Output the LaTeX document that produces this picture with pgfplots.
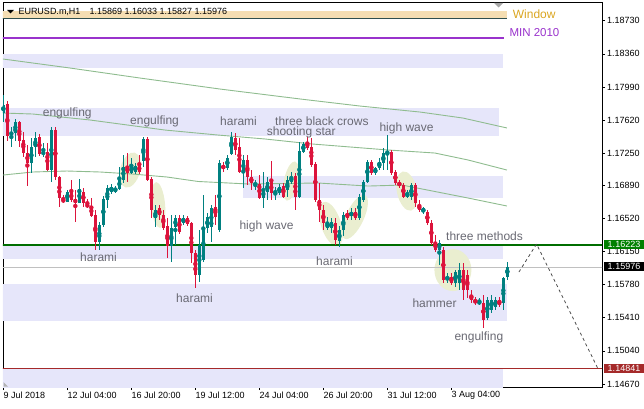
\documentclass[border=0pt]{standalone}
\usepackage{pgfplots}
\pgfplotsset{compat=1.18}
\usepackage{pgfplotstable}
\usepackage{fontspec}
\setmainfont{Liberation Sans}
\usetikzlibrary{shapes.geometric}

\definecolor{upc}{RGB}{0,128,128}
\definecolor{dnc}{RGB}{220,20,60}
\definecolor{lav}{RGB}{230,230,250}
\definecolor{wheatc}{RGB}{245,222,179}
\definecolor{orchid}{RGB}{153,50,204}
\definecolor{goldc}{RGB}{218,165,32}
\definecolor{magr}{RGB}{143,188,143}
\definecolor{lvlg}{RGB}{0,110,0}
\definecolor{lvlgr}{RGB}{192,192,192}
\definecolor{lvlr}{RGB}{165,42,42}
\definecolor{pale}{RGB}{234,238,208}
\definecolor{annot}{RGB}{105,105,115}
\definecolor{slate}{RGB}{47,79,79}
\definecolor{boxg}{RGB}{0,128,0}

\newcommand{\tickf}{\fontsize{9}{10}\selectfont}
\newcommand{\annf}{\fontsize{12}{13}\selectfont}

% EURUSD H4 bars: k open high low close
\pgfplotstableread{
k o h l c
0 1.17698 1.17899 1.17598 1.17788
1 1.17799 1.17832 1.17385 1.17441
2 1.17452 1.17542 1.17318 1.17486
3 1.17475 1.17631 1.17385 1.17598
4 1.17598 1.17609 1.17318 1.17385
5 1.17396 1.17486 1.17206 1.17251
6 1.17251 1.17341 1.16882 1.17139
7 1.17139 1.17419 1.17028 1.17318
8 1.17318 1.17486 1.17206 1.17419
9 1.17430 1.17463 1.17218 1.17240
10 1.17240 1.17363 1.17206 1.17262
11 1.17262 1.17363 1.17050 1.17061
12 1.17061 1.17542 1.16927 1.17508
13 1.17508 1.17542 1.16949 1.16983
14 1.16983 1.16990 1.16648 1.16748
15 1.16737 1.16782 1.16692 1.16703
16 1.16703 1.16838 1.16700 1.16815
17 1.16815 1.16949 1.16703 1.16726
18 1.16737 1.16838 1.16480 1.16692
19 1.16692 1.16961 1.16688 1.16849
20 1.16815 1.16860 1.16648 1.16692
21 1.16681 1.16737 1.16642 1.16648
22 1.16659 1.16748 1.16536 1.16547
23 1.16558 1.16614 1.16167 1.16256
24 1.16256 1.16480 1.16167 1.16446
25 1.16446 1.16771 1.16424 1.16737
26 1.16726 1.16893 1.16636 1.16860
27 1.16815 1.16905 1.16793 1.16871
28 1.16815 1.16882 1.16804 1.16860
29 1.16849 1.17095 1.16838 1.16961
30 1.16949 1.17229 1.16916 1.17095
31 1.17095 1.17251 1.16927 1.17028
32 1.17028 1.17195 1.17022 1.17106
33 1.17039 1.17139 1.17022 1.17106
34 1.17117 1.17229 1.17022 1.17039
35 1.17162 1.17430 1.17095 1.17408
36 1.17408 1.17430 1.16938 1.16949
37 1.16961 1.16983 1.16525 1.16614
38 1.16525 1.16670 1.16424 1.16614
39 1.16636 1.16670 1.16502 1.16558
40 1.16558 1.16614 1.16391 1.16413
41 1.16435 1.16525 1.16078 1.16212
42 1.16212 1.16558 1.16033 1.16413
43 1.16424 1.16558 1.16223 1.16525
44 1.16525 1.16558 1.16346 1.16368
45 1.16469 1.16558 1.16446 1.16525
46 1.16525 1.16547 1.16435 1.16458
47 1.16469 1.16480 1.16022 1.16133
48 1.16133 1.16167 1.15742 1.15888
49 1.15888 1.16391 1.15809 1.16223
50 1.16055 1.16782 1.16033 1.16424
51 1.16413 1.16580 1.16357 1.16536
52 1.16424 1.16670 1.16256 1.16636
53 1.16648 1.16782 1.16446 1.16536
54 1.16391 1.17173 1.16368 1.17139
55 1.17117 1.17150 1.17039 1.17072
56 1.17083 1.17229 1.17061 1.17195
57 1.17240 1.17486 1.17229 1.17430
58 1.17419 1.17475 1.17229 1.17285
59 1.17318 1.17419 1.17028 1.17039
60 1.17039 1.17229 1.16860 1.17173
61 1.17173 1.17229 1.16893 1.16983
62 1.16983 1.17061 1.16838 1.16916
63 1.16893 1.16949 1.16838 1.16916
64 1.16905 1.17005 1.16737 1.16748
65 1.16748 1.17039 1.16636 1.16838
66 1.16815 1.16983 1.16726 1.16927
67 1.16927 1.17162 1.16726 1.16804
68 1.16804 1.16871 1.16726 1.16826
69 1.16804 1.16905 1.16782 1.16871
70 1.16882 1.16916 1.16748 1.16759
71 1.16838 1.16994 1.16759 1.16949
72 1.16927 1.17039 1.16905 1.16983
73 1.16994 1.17028 1.16614 1.16759
74 1.16759 1.17374 1.16754 1.17273
75 1.17262 1.17374 1.17251 1.17352
76 1.17374 1.17430 1.17285 1.17307
77 1.17318 1.17419 1.17095 1.17117
78 1.17128 1.17150 1.16703 1.16726
79 1.16726 1.16916 1.16480 1.16614
80 1.16614 1.16670 1.16391 1.16469
81 1.16413 1.16536 1.16391 1.16469
82 1.16413 1.16525 1.16357 1.16480
83 1.16469 1.16525 1.16223 1.16279
84 1.16268 1.16435 1.16200 1.16391
85 1.16391 1.16592 1.16323 1.16558
86 1.16580 1.16614 1.16502 1.16525
87 1.16547 1.16636 1.16502 1.16592
88 1.16592 1.16636 1.16502 1.16525
89 1.16525 1.16793 1.16502 1.16759
90 1.16726 1.16949 1.16703 1.16927
91 1.16927 1.17173 1.16916 1.17150
92 1.17150 1.17173 1.17005 1.17028
93 1.17028 1.17095 1.17005 1.17083
94 1.17083 1.17195 1.17061 1.17150
95 1.17139 1.17307 1.17061 1.17251
96 1.17229 1.17452 1.17061 1.17262
97 1.17262 1.17285 1.17005 1.17028
98 1.17039 1.17061 1.16893 1.16916
99 1.16916 1.16949 1.16860 1.16893
100 1.16893 1.16916 1.16748 1.16759
101 1.16759 1.16838 1.16748 1.16804
102 1.16759 1.16916 1.16726 1.16893
103 1.16893 1.16916 1.16648 1.16692
104 1.16670 1.16726 1.16592 1.16614
105 1.16592 1.16648 1.16569 1.16636
106 1.16592 1.16614 1.16446 1.16469
107 1.16469 1.16502 1.16223 1.16245
108 1.16256 1.16335 1.16145 1.16167
109 1.16167 1.16279 1.15999 1.16245
110 1.16167 1.16200 1.15798 1.15832
111 1.15832 1.15910 1.15798 1.15865
112 1.15865 1.15910 1.15776 1.15798
113 1.15798 1.15943 1.15754 1.15921
114 1.15798 1.16022 1.15720 1.15943
115 1.15943 1.16022 1.15608 1.15720
116 1.15888 1.15943 1.15631 1.15720
117 1.15664 1.15720 1.15575 1.15608
118 1.15608 1.15642 1.15552 1.15575
119 1.15575 1.15631 1.15552 1.15586
120 1.15575 1.15664 1.15295 1.15385
121 1.15407 1.15642 1.15385 1.15608
122 1.15496 1.15664 1.15463 1.15608
123 1.15530 1.15642 1.15496 1.15608
124 1.15608 1.15642 1.15530 1.15552
125 1.15575 1.15865 1.15496 1.15854
126 1.15869 1.16033 1.15827 1.15976
}\candles

\pgfplotsset{
  wick/.style={only marks, mark=none, forget plot,
    error bars/.cd, y dir=both, y explicit, error mark=none,
    error bar style={line width=1pt}},
  body/.style={only marks, mark=none, forget plot,
    error bars/.cd, y dir=both, y explicit, error mark=none,
    error bar style={line width=3pt}},
  band/.style={fill=lav, draw=none, forget plot},
  up/.style={x filter/.expression={\thisrow{c}<\thisrow{o} ? nan : x}},
  down/.style={x filter/.expression={\thisrow{c}<\thisrow{o} ? x : nan}},
}

\begin{document}
\begin{tikzpicture}
\path[use as bounding box] (0,0) rectangle (644pt,408pt);
\begin{axis}[
  at={(3pt,21pt)}, anchor=south west,
  scale only axis, width=599pt, height=385pt,
  xmin=-0.08, xmax=149.67, ymin=1.14636, ymax=1.18939,
  axis line style={black, line width=0.8pt},
  tick align=outside, major tick length=3pt,
  tick style={black, line width=0.6pt},
  xtick pos=left, ytick pos=right, yticklabel pos=right,
  xtick={0,16,32,48,64,80,96,112},
  xticklabels={9 Jul 2018,12 Jul 04:00,16 Jul 20:00,19 Jul 12:00,24 Jul 04:00,26 Jul 20:00,31 Jul 12:00,3 Aug 04:00},
  ytick={1.1467,1.1504,1.1541,1.1578,1.1615,1.1652,1.1689,1.1725,1.1762,1.1799,1.1836,1.1873},
  yticklabels={1.14670,1.15040,1.15410,1.15780,1.16150,1.16520,1.16890,1.17250,1.17620,1.17990,1.18360,1.18730},
  ticklabel style={font=\tickf, black},
  xticklabel style={anchor=north west, inner xsep=0pt, inner ysep=1.5pt},
  yticklabel style={anchor=west, inner xsep=2pt},
]
% zones
\addplot[band] coordinates {(-1,1.18204) (124.8,1.18204) (124.8,1.18357) (-1,1.18357)} -- cycle;
\addplot[band] coordinates {(-1,1.17441) (123.8,1.17441) (123.8,1.17754) (-1,1.17754)} -- cycle;
\addplot[band] coordinates {(59.9,1.16748) (124.8,1.16748) (124.8,1.16994) (59.9,1.16994)} -- cycle;
\addplot[band] coordinates {(-1,1.16066) (124.8,1.16066) (124.8,1.16223) (-1,1.16223)} -- cycle;
\addplot[band] coordinates {(-1,1.15377) (125.8,1.15377) (125.8,1.15787) (-1,1.15787)} -- cycle;
\addplot[band] coordinates {(-1,1.14600) (124.8,1.14600) (124.8,1.14841) (-1,1.14841)} -- cycle;
\addplot[fill=wheatc, draw=none, forget plot] coordinates {(-1,1.18749) (125.9,1.18749) (125.9,1.18838) (-1,1.18838)} -- cycle;
\addplot[slate, line width=1pt, forget plot] coordinates {(-1,1.18749) (125.9,1.18749)};
\addplot[orchid, line width=2pt, forget plot] coordinates {(-1,1.18540) (125.2,1.18540)};

% pattern highlights
\node[ellipse, fill=pale, inner sep=0, minimum width=20pt, minimum height=36pt, rotate=-15] at (axis cs:31.7,1.17061) {};
\node[ellipse, fill=pale, inner sep=0, minimum width=14pt, minimum height=46pt, rotate=5] at (axis cs:38.7,1.16670) {};
\node[ellipse, fill=pale, inner sep=0, minimum width=14pt, minimum height=40pt, rotate=-12] at (axis cs:71.9,1.16938) {};
\node[ellipse, fill=pale, inner sep=0, minimum width=20pt, minimum height=46pt, rotate=18] at (axis cs:81.9,1.16458) {};
\node[ellipse, fill=pale, inner sep=0, minimum width=18pt, minimum height=48pt, rotate=-25] at (axis cs:87.9,1.16536) {};
\node[ellipse, fill=pale, inner sep=0, minimum width=20pt, minimum height=40pt, rotate=12] at (axis cs:100.9,1.16826) {};
\node[ellipse, fill=pale, inner sep=0, minimum width=37pt, minimum height=42pt] at (axis cs:112.4,1.15943) {};

% levels
\addplot[lvlgr, line width=1pt, forget plot] coordinates {(-1,1.15976) (150,1.15976)};
\addplot[lvlg, line width=1.1pt, forget plot] coordinates {(-1,1.16223) (150,1.16223)};
\addplot[lvlr, line width=1.1pt, forget plot] coordinates {(-1,1.14841) (150,1.14841)};

% moving averages
\addplot[magr, line width=0.9pt, forget plot] coordinates {
  (-0.1,1.18302) (16.7,1.18201) (34.2,1.18089) (54.2,1.17966) (74.2,1.17855)
  (89.2,1.17776) (104.2,1.17709) (114.9,1.17642) (125.9,1.17531)};
\addplot[magr, line width=0.9pt, forget plot] coordinates {
  (-0.1,1.17698) (7.4,1.17687) (21.7,1.17620) (40.4,1.17508) (53.7,1.17452)
  (65.4,1.17408) (77.2,1.17352) (96.2,1.17285) (107.9,1.17251) (116.2,1.17173) (125.9,1.17061)};
\addplot[magr, line width=0.9pt, forget plot] coordinates {
  (-0.1,1.17005) (7.4,1.17039) (15.9,1.17050) (24.2,1.17039) (32.4,1.17016)
  (40.9,1.16983) (48.7,1.16933) (61.2,1.16905) (78.7,1.16916) (91.2,1.16882)
  (99.7,1.16893) (107.9,1.16821) (116.2,1.16748) (125.9,1.16659)};

% projection
\addplot[black!70, line width=0.8pt, dash pattern=on 3pt off 3pt, forget plot] coordinates {
  (128.9,1.15921) (133.3,1.16234) (148.7,1.14837)};

% candles
\addplot[upc, up, wick]
  table[x=k, y expr={0.5*(\thisrow{h}+\thisrow{l})}, y error expr={0.5*(\thisrow{h}-\thisrow{l})}] {\candles};
\addplot[dnc, down, wick]
  table[x=k, y expr={0.5*(\thisrow{h}+\thisrow{l})}, y error expr={0.5*(\thisrow{h}-\thisrow{l})}] {\candles};
\addplot[upc, up, body]
  table[x=k, y expr={0.5*(\thisrow{o}+\thisrow{c})}, y error expr={0.5*abs(\thisrow{c}-\thisrow{o})+0.00004}] {\candles};
\addplot[dnc, down, body]
  table[x=k, y expr={0.5*(\thisrow{o}+\thisrow{c})}, y error expr={0.5*abs(\thisrow{c}-\thisrow{o})+0.00004}] {\candles};
\end{axis}

% header and labels (1pt = 1px, y measured from the bottom)
\fill[black] (7pt,398pt) -- (14pt,398pt) -- (10.5pt,394.5pt) -- cycle;
\node[anchor=base west, inner sep=0, font=\tickf] at (18.3pt,393.5pt) {EURUSD.m,H1};
\node[anchor=base west, inner sep=0, font=\tickf] at (89.3pt,393.5pt) {1.15869 1.16033 1.15827 1.15976};
\fill[black!35] (494pt,405pt) -- (503pt,405pt) -- (498.5pt,400.5pt) -- cycle;
\fill[black!30] (3.5pt,26pt) -- (3.5pt,21.5pt) -- (8pt,21.5pt) -- cycle;
\node[anchor=base west, inner sep=0, text=goldc, font=\annf] at (512.7pt,389.5pt) {Window};
\node[anchor=base west, inner sep=0, text=orchid, font=\fontsize{11.5}{12}\selectfont] at (509.3pt,371.5pt) {MIN 2010};

\begin{scope}[every node/.style={anchor=base west, inner sep=0, text=annot, font=\annf}]
\node at (42.7pt,292pt) {engulfing};
\node at (130pt,284pt) {engulfing};
\node at (220pt,283pt) {harami};
\node at (275pt,283pt) {three black crows};
\node at (266.7pt,272.5pt) {shooting star};
\node at (379.3pt,276.5pt) {high wave};
\node at (239.3pt,179pt) {high wave};
\node at (80pt,146.7pt) {harami};
\node at (316pt,143pt) {harami};
\node at (176pt,105.7pt) {harami};
\node at (446pt,168pt) {three methods};
\node at (412.3pt,100.7pt) {hammer};
\node at (454.3pt,67.3pt) {engulfing};
\end{scope}

\node[fill=boxg, text=white, minimum width=40pt, minimum height=9.5pt, inner sep=0, font=\tickf] at (624pt,163.3pt) {1.16223};
\node[fill=black, text=white, minimum width=40pt, minimum height=9.5pt, inner sep=0, font=\tickf] at (624pt,141.3pt) {1.15976};
\node[fill=lvlr, text=white, minimum width=40pt, minimum height=9.5pt, inner sep=0, font=\tickf] at (624pt,39.5pt) {1.14841};
\end{tikzpicture}
\end{document}
